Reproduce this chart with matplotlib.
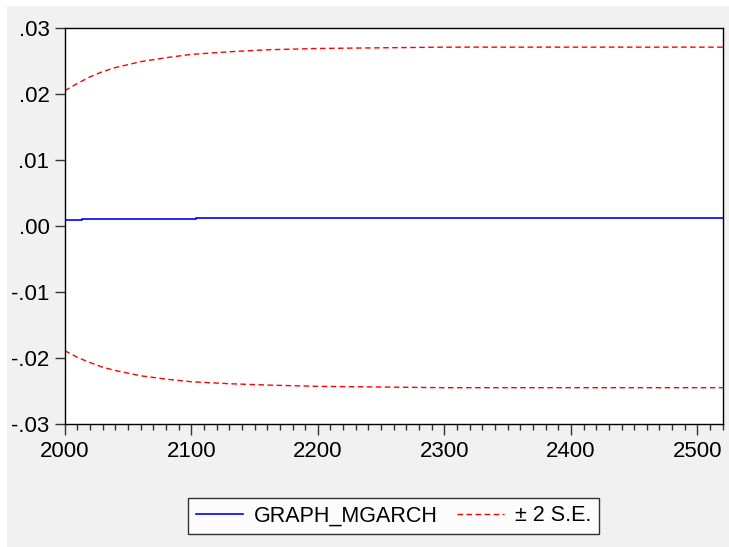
import matplotlib.pyplot as plt
from matplotlib.patches import Rectangle
from matplotlib.ticker import MultipleLocator, FuncFormatter

plt.rcParams['font.family'] = ['Liberation Sans', 'DejaVu Sans']

# forecast horizon checkpoints
x_band = [2000, 2010, 2020, 2030, 2040, 2060, 2080, 2100, 2130, 2160, 2200, 2250, 2300, 2400, 2520]
upper = [0.0205, 0.0216, 0.0226, 0.0234, 0.0240, 0.0249, 0.0255, 0.0260, 0.0264, 0.0267, 0.0269, 0.0270, 0.0271, 0.0271, 0.0271]
lower = [-0.0189, -0.0199, -0.0207, -0.0214, -0.0219, -0.0227, -0.0232, -0.0236, -0.0239, -0.0241, -0.0243, -0.0244, -0.0245, -0.0245, -0.0245]

# point forecast (GRAPH_MGARCH)
x_fc = [2000, 2014, 2104, 2520]
fc = [0.0009, 0.0011, 0.0012, 0.0012]

fig = plt.figure(figsize=(7.29, 5.47), dpi=100, facecolor='white')
# grey panel like the EViews frame
fig.patches.append(Rectangle((7 / 729, 0), 1, 1 - 6 / 547, transform=fig.transFigure,
                             facecolor='#f1f1f1', edgecolor='none', zorder=-10))

ax = fig.add_axes([0.0888, 0.2249, 0.9026, 0.7239])
ax.set_facecolor('white')

ax.plot(x_fc, fc, color='#0000ff', lw=1.2, drawstyle='steps-post', label='GRAPH_MGARCH')
ax.plot(x_band, upper, color='#ff0000', lw=1.0, ls=(0, (4, 2.5)), label='± 2 S.E.')
ax.plot(x_band, lower, color='#ff0000', lw=1.0, ls=(0, (4, 2.5)))

ax.set_xlim(2000, 2520)
ax.set_ylim(-0.03, 0.03)
ax.yaxis.set_major_locator(MultipleLocator(0.01))
ax.xaxis.set_major_locator(MultipleLocator(100))
ax.xaxis.set_minor_locator(MultipleLocator(10))


def fmt_y(v, pos):
    s = f'{v:.2f}'
    s = s.replace('0.', '.')
    if s == '-.00':
        s = '.00'
    return s


ax.yaxis.set_major_formatter(FuncFormatter(fmt_y))

for sp in ax.spines.values():
    sp.set_color('black')
    sp.set_linewidth(1.0)

ax.tick_params(axis='y', direction='out', length=7, width=1, labelsize=16, pad=4, color='#333333')
ax.tick_params(axis='x', which='major', direction='out', length=8, width=1, labelsize=16, pad=4.5, color='#333333')
ax.tick_params(axis='x', which='minor', direction='out', length=4.5, width=1, color='#333333')

leg = fig.legend(loc='center', bbox_to_anchor=(0.54, 0.0567), ncol=2, fontsize=15.5,
                 frameon=True, fancybox=False, edgecolor='black', facecolor='white',
                 handlelength=2.2, handletextpad=0.5, columnspacing=0.9,
                 borderpad=0.35, borderaxespad=0)
leg.get_frame().set_linewidth(1.0)

fig.savefig('out.png', dpi=100, facecolor=fig.get_facecolor())
